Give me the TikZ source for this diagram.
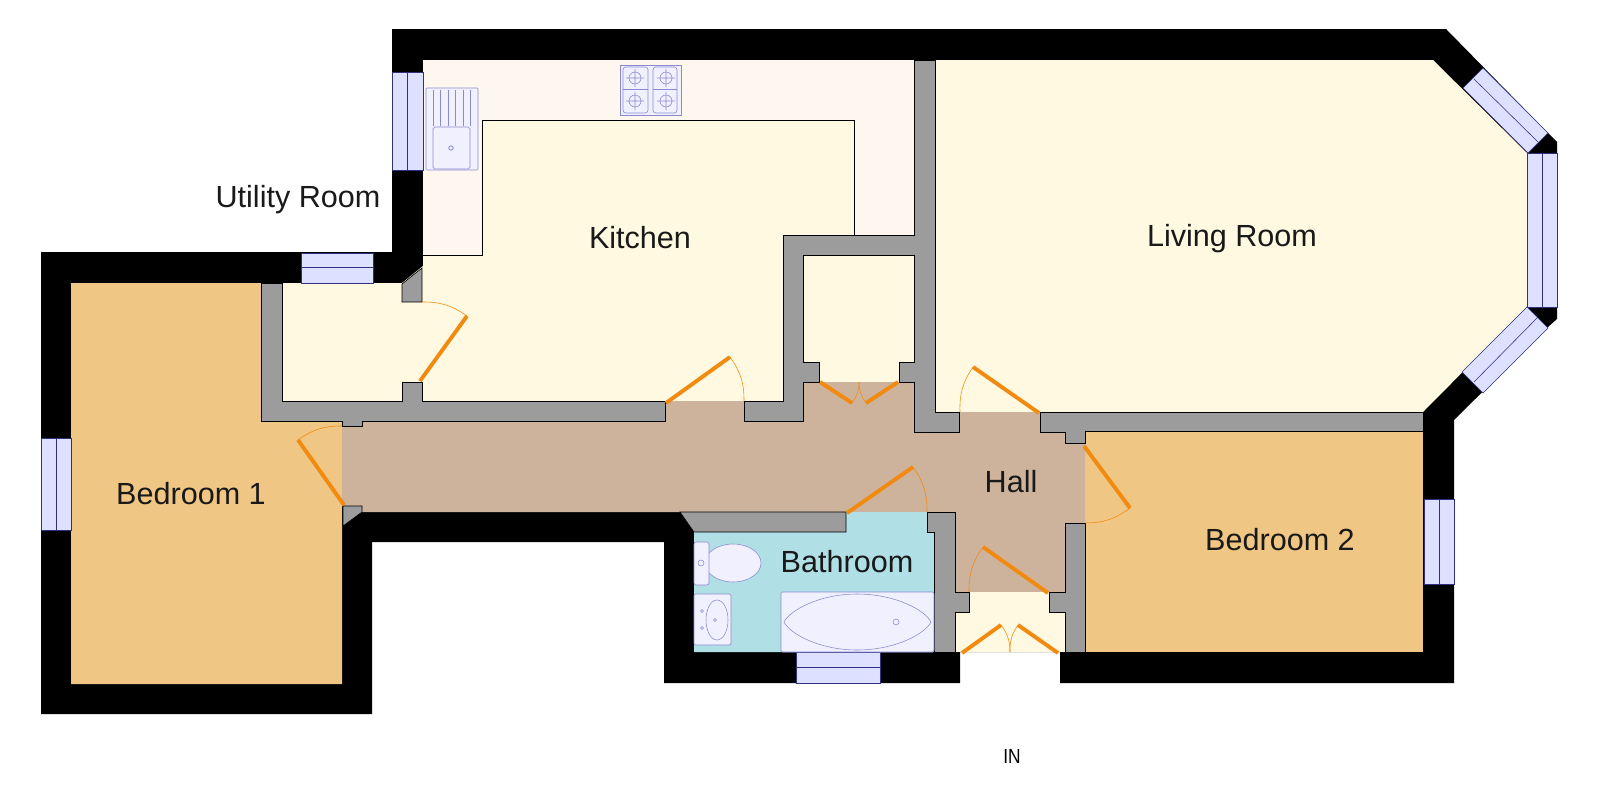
\documentclass[tikz,border=0pt]{standalone}
\usepackage{fontspec}
\setmainfont{Liberation Sans}
\usepackage{tikz}
\definecolor{wallblack}{HTML}{000000}
\definecolor{wallgrey}{HTML}{9C9C9C}
\definecolor{roomcream}{HTML}{FEF9E0}
\definecolor{countertop}{HTML}{FDF7F0}
\definecolor{halltan}{HTML}{CDB39B}
\definecolor{bedorange}{HTML}{EFC683}
\definecolor{bathblue}{HTML}{B0DFE6}
\definecolor{glasspane}{HTML}{DDE0FF}
\definecolor{glassline}{HTML}{30307F}
\definecolor{fitting}{HTML}{F0F0FF}
\definecolor{fittingline}{HTML}{8A8AD0}
\definecolor{doororange}{HTML}{F28A10}
\tikzset{
  room/.style={fill=#1,draw=none},
  partition/.style={fill=wallgrey,draw=black,line width=0.8pt,line join=miter},
  window/.style={fill=glasspane,draw=glassline,line width=0.8pt},
  fixture/.style={fill=fitting,draw=fittingline,line width=0.8pt},
  fixtureline/.style={draw=fittingline,line width=0.8pt},
  doorleaf/.style={draw=doororange,line width=5.5pt},
  doorswing/.style={draw=doororange,line width=0.8pt},
  roomlabel/.style={font=\fontsize{43.5}{50}\selectfont,text=black!90}
}
\begin{document}
\begin{tikzpicture}[x=0.05cm,y=-0.05cm]
  \useasboundingbox (0,0) rectangle (1600,800);
  % Outer walls
  \fill[wallblack] (392,29) -- (1446,29) -- (1548,133) -- (1557,142) -- (1557,319) -- (1548,327)
	  -- (1454,420) -- (1454,683) -- (1060,683) -- (1060,652) -- (960,652) -- (960,683) -- (664,683)
	  -- (664,542) -- (372,542) -- (372,714) -- (41,714) -- (41,252) -- (392,252) -- cycle;

  % Rooms
  \fill[room=countertop] (423,60) -- (914,60) -- (914,235) -- (854,235) -- (854,120) -- (482,120)
	  -- (482,255) -- (423,255) -- cycle;
  \fill[room=roomcream] (282,283) -- (402,283) -- (423,266) -- (423,255) -- (482,255) -- (482,120)
	  -- (854,120) -- (854,235) -- (783,235) -- (783,401) -- (282,401) -- cycle;
  \fill[room=roomcream] (803,255) -- (914,255) -- (914,382) -- (803,382) -- cycle;
  \fill[room=roomcream] (935,60) -- (1433,60) -- (1527,153) -- (1527,307) -- (1423,412) -- (935,412) -- cycle;
  \fill[room=bedorange] (71,283) -- (261,283) -- (261,422) -- (342,422) -- (342,684) -- (71,684) -- cycle;
  \fill[room=bedorange] (1085,431) rectangle (1423,652);
  \fill[room=halltan] (342,422) -- (665,422) -- (665,401) -- (744,401) -- (744,421) -- (803,421) -- (803,382)
	  -- (914,382) -- (914,432) -- (959,432) -- (959,412) -- (1040,412) -- (1040,432) -- (1085,432)
	  -- (1085,523) -- (1065,523) -- (1065,592) -- (955,592) -- (955,512) -- (362,512) -- (362,506) -- (342,506) -- cycle;
  \fill[room=bathblue] (694,532) -- (846,532) -- (846,512) -- (927,512) -- (927,532) -- (934,532)
	  -- (934,652) -- (694,652) -- cycle;
  \fill[room=roomcream] (955,592) -- (1065,592) -- (1065,652) -- (955,652) -- cycle;
  \draw[line width=1pt] (423,255) -- (482,255) -- (482,120) -- (854,120) -- (854,235);

  % Partition walls
  \draw[partition] (744,401) -- (783,401) -- (783,235) -- (914,235) -- (914,60) -- (935,60) -- (935,412)
	  -- (959,412) -- (959,432) -- (914,432) -- (914,382) -- (899,382) -- (899,362) -- (914,362) -- (914,255)
	  -- (803,255) -- (803,362) -- (819,362) -- (819,382) -- (803,382) -- (803,421) -- (744,421) -- cycle;
  \draw[partition] (261,283) -- (282,283) -- (282,401) -- (402,401) -- (402,382) -- (422,382) -- (422,401)
	  -- (665,401) -- (665,421) -- (362,421) -- (362,426) -- (342,426) -- (342,421) -- (261,421) -- cycle;
  \draw[partition] (402,302) -- (422,302) -- (422,268) -- (402,284) -- cycle;
  \draw[partition] (1040,412) -- (1423,412) -- (1423,431) -- (1085,431) -- (1085,443) -- (1065,443)
	  -- (1065,432) -- (1040,432) -- cycle;
  \draw[partition] (343,506) -- (362,506) -- (362,512) -- (343,526) -- cycle;
  \draw[partition] (680,512) -- (846,512) -- (846,532) -- (694,532) -- cycle;
  \draw[partition] (927,512) -- (955,512) -- (955,592) -- (969,592) -- (969,612) -- (955,612) -- (955,652)
	  -- (934,652) -- (934,532) -- (927,532) -- cycle;
  \draw[partition] (1065,523) -- (1085,523) -- (1085,652) -- (1065,652) -- (1065,612) -- (1049,612)
	  -- (1049,592) -- (1065,592) -- cycle;

  % Windows
  \draw[window] (392,72) rectangle (423,170) (407,72) -- (407,170);
  \draw[window] (301,253) rectangle (373,283) (301,267) -- (373,267);
  \draw[window] (41,438) rectangle (71,530) (56,438) -- (56,530);
  \draw[window] (1424,499) rectangle (1454,584) (1439,499) -- (1439,584);
  \draw[window] (796,652) rectangle (880,683) (796,667) -- (880,667);
  \draw[window] (1527,153) rectangle (1557,307) (1542,153) -- (1542,307);
  \draw[window] (1463,88) -- (1483,68) -- (1548,133) -- (1528,153) -- cycle (1474,79) -- (1538,142);
  \draw[window] (1527,307) -- (1548,328) -- (1483,393) -- (1462,372) -- cycle (1537,318) -- (1474,382);

  % Sink and hob
  \draw[fixture,rounded corners=1.5] (426,88) rectangle (478,170);
  \draw[fixture,rounded corners=2.5] (433,127) rectangle (470,169);
  \draw[fixture,line width=1.2pt] (451,148) circle (2.2);
  \draw[fixtureline] (433,90) -- (433,126) (440.5,90) -- (440.5,126) (448,90) -- (448,126)
	  (455.5,90) -- (455.5,126) (463,90) -- (463,126) (470,90) -- (470,126);
  \draw[fixture] (620,65) rectangle (681,115);
  \draw[fixture,rounded corners=4] (623,67) rectangle (648,113);
  \draw[fixture,rounded corners=4] (653,67) rectangle (677,113);
  \draw[fixtureline] (623,89.5) -- (648,89.5) (653,89.5) -- (677,89.5);
  \draw[fixtureline] (635,78) circle (6) ++(-9,0) -- ++(18,0) ++(-9,-9) -- ++(0,18);
  \draw[fixtureline] (635,101) circle (6) ++(-9,0) -- ++(18,0) ++(-9,-9) -- ++(0,18);
  \draw[fixtureline] (666,78) circle (6) ++(-9,0) -- ++(18,0) ++(-9,-9) -- ++(0,18);
  \draw[fixtureline] (666,101) circle (6) ++(-9,0) -- ++(18,0) ++(-9,-9) -- ++(0,18);

  % Bathroom fittings
  \draw[fixture] (733,563) ellipse (28 and 19);
  \draw[fixture,rounded corners=3] (694,542) rectangle (709,585);
  \draw[fixtureline] (701,563) circle (3);
  \draw[fixture,rounded corners=2] (694,594) rectangle (731,645);
  \draw[fixtureline] (717,620) ellipse (11 and 20);
  \draw[fixtureline] (702,611) circle (1.5) (702,628) circle (1.5) (715,620) circle (1.5);
  \draw[fixture,rounded corners=2] (781,592) rectangle (934,652);
  \draw[fixtureline] (784,622) .. controls (790,610) and (820,594) .. (857,594)
	  .. controls (895,594) and (925,610) .. (931,622)
	  .. controls (925,634) and (895,650) .. (857,650)
	  .. controls (820,650) and (790,634) .. cycle;
  \draw[fixtureline] (896,622) circle (3);

  % Doors
  \draw[doorleaf] (420,381) -- (467,316);
  \draw[doorswing] (422,302) to[bend left=18] (467,316);
  \draw[doorleaf] (344,505) -- (298,440);
  \draw[doorswing] (342,426) to[bend right=18] (298,440);
  \draw[doorleaf] (666,403) -- (730,357);
  \draw[doorswing] (730,357) to[bend left=18] (744,401);
  \draw[doorleaf] (847,513) -- (913,467);
  \draw[doorswing] (913,467) to[bend left=18] (927,512);
  \draw[doorleaf] (1039,413) -- (973,367);
  \draw[doorswing] (960,412) to[bend left=18] (973,367);
  \draw[doorleaf] (1084,446) -- (1130,508);
  \draw[doorswing] (1130,508) to[bend left=18] (1085,523);
  \draw[doorleaf] (1048,593) -- (983,547);
  \draw[doorswing] (969,592) to[bend left=18] (983,547);
  \draw[doorleaf] (820,382) -- (852,403);
  \draw[doorleaf] (898,382) -- (866,403);
  \draw[doorswing] (852,403) to[bend right=18] (859,382);
  \draw[doorswing] (866,403) to[bend left=18] (859,382);
  \draw[doorleaf] (962,653) -- (1001,625);
  \draw[doorleaf] (1058,653) -- (1018,625);
  \draw[doorswing] (1001,625) to[bend left=18] (1010,652);
  \draw[doorswing] (1018,625) to[bend right=18] (1010,652);

  % Labels
  \node[roomlabel] (utility label)  at (298,200)  {Utility Room};
  \node[roomlabel] (kitchen label)  at (640,238)  {Kitchen};
  \node[roomlabel] (living label)   at (1232,239) {Living Room};
  \node[roomlabel] (bed 1 label)    at (191,494)  {Bedroom 1};
  \node[roomlabel] (hall label)     at (1011,482) {Hall};
  \node[roomlabel] (bathroom label) at (847,562)  {Bathroom};
  \node[roomlabel] (bed 2 label)    at (1280,540) {Bedroom 2};
  \node[font=\fontsize{29}{32}\selectfont,xscale=0.85] (entrance label) at (1012,756) {IN};
\end{tikzpicture}
\end{document}
